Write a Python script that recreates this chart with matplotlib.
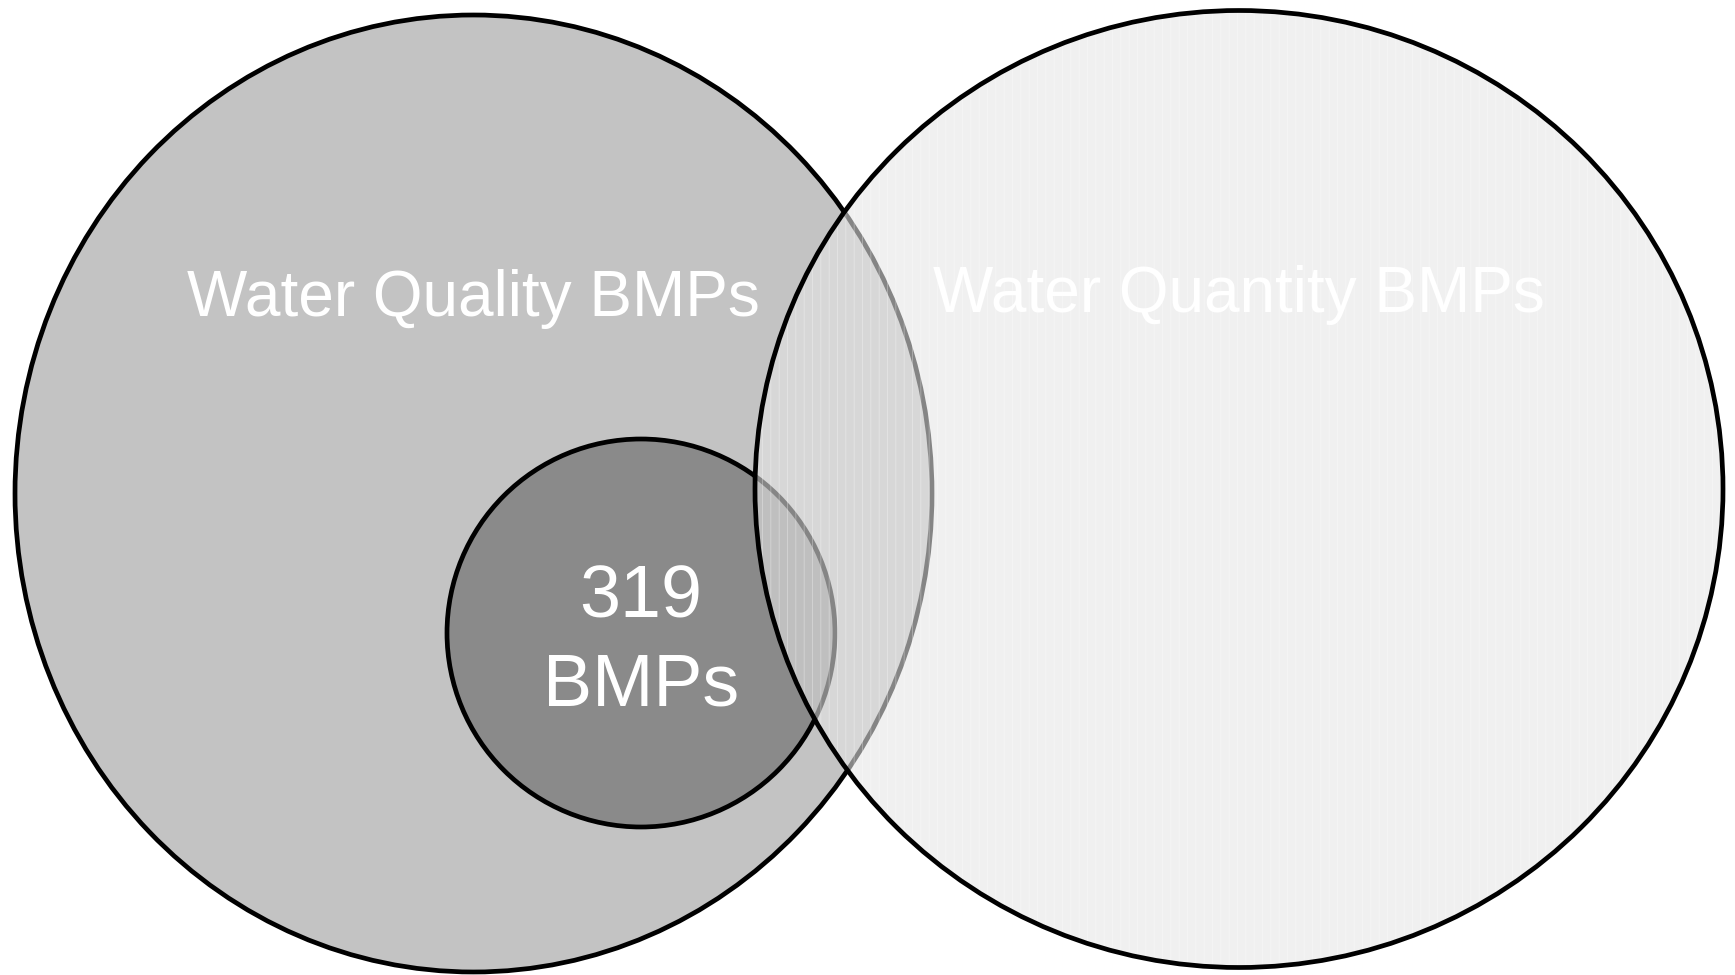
import matplotlib.pyplot as plt
from matplotlib.patches import Ellipse

# labels / values
set_names = ['Water Quality BMPs', 'Water Quantity BMPs']
subset_count = 319
subset_unit = 'BMPs'

plt.rcParams['font.family'] = ['Liberation Sans', 'DejaVu Sans']

fig = plt.figure(figsize=(17.35, 9.75), dpi=100)
ax = fig.add_axes([0, 0, 1, 1])
ax.set_xlim(0, 1735)
ax.set_ylim(975, 0)
ax.axis('off')

# left set (quality)
ax.add_patch(Ellipse((473.5, 493.5), 917, 957, facecolor='#c3c3c3',
                     edgecolor='black', lw=3.4, zorder=1))
# 319 subset inside quality set
ax.add_patch(Ellipse((641, 633), 388, 388, facecolor='#8a8a8a',
                     edgecolor='black', lw=3.4, zorder=2))
# right set (quantity), semi transparent on top
ax.add_patch(Ellipse((1239, 489), 968, 957, facecolor=(0.9, 0.9, 0.9, 0.58),
                     edgecolor='none', lw=0, zorder=3))
plt.rcParams['hatch.linewidth'] = 0.6
ax.add_patch(Ellipse((1239, 489), 968, 957, fill=False, hatch='||',
                     edgecolor=(1, 1, 1, 0.35), lw=0, zorder=4))
ax.add_patch(Ellipse((1239, 489), 968, 957, fill=False,
                     edgecolor='black', lw=3.4, zorder=5))

ax.text(473, 316, set_names[0], color='white', fontsize=46,
        ha='center', va='baseline', zorder=6)
ax.text(1239, 312, set_names[1], color='white', fontsize=46,
        ha='center', va='baseline', zorder=6)
ax.text(641, 617, str(subset_count), color='white', fontsize=53,
        ha='center', va='baseline', zorder=6)
ax.text(641, 706, subset_unit, color='white', fontsize=53,
        ha='center', va='baseline', zorder=6)

fig.savefig('out.png', dpi=100)
